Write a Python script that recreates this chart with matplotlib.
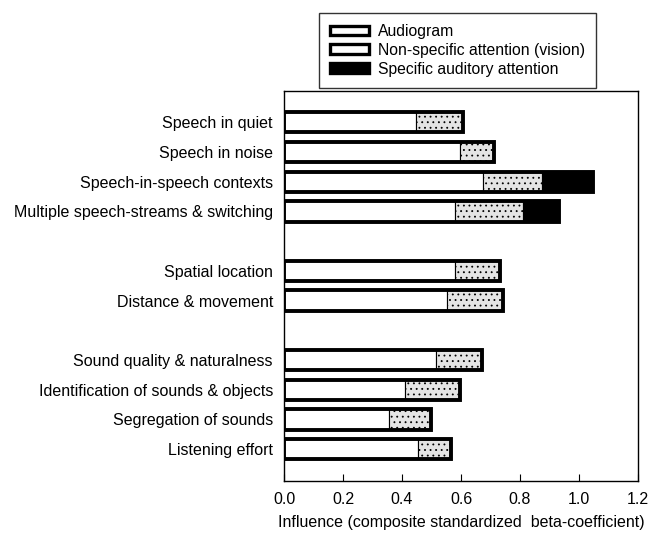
import matplotlib
matplotlib.use("Agg")
import matplotlib.pyplot as plt
from matplotlib.patches import Patch
import numpy as np

plt.rcParams['font.family'] = ['Liberation Sans', 'DejaVu Sans']
plt.rcParams['hatch.color'] = '#b0b0b0'
plt.rcParams['hatch.linewidth'] = 0.6

categories = [
    "Speech in quiet",
    "Speech in noise",
    "Speech-in-speech contexts",
    "Multiple speech-streams & switching",
    "Spatial location",
    "Distance & movement",
    "Sound quality & naturalness",
    "Identification of sounds & objects",
    "Segregation of sounds",
    "Listening effort",
]
positions = [0, 1, 2, 3, 5, 6, 8, 9, 10, 11]

audiogram = [0.447, 0.597, 0.675, 0.580, 0.580, 0.554, 0.514, 0.410, 0.356, 0.455]
nonspecific = [0.159, 0.115, 0.198, 0.231, 0.152, 0.189, 0.158, 0.187, 0.142, 0.111]
specific = [0.0, 0.0, 0.175, 0.120, 0.0, 0.0, 0.0, 0.0, 0.0, 0.0]

xticks = [0.0, 0.2, 0.4, 0.6, 0.8, 1.0, 1.2]
series_names = ["Audiogram", "Non-specific attention (vision)", "Specific auditory attention"]

fig = plt.figure(figsize=(6.56, 5.36), dpi=100)
ax = fig.add_axes([0.433, 0.1026, 0.5396, 0.7276])

h = 0.68
a = np.array(audiogram)
b = np.array(nonspecific)
c = np.array(specific)

ax.barh(positions, a, height=h, color='white', edgecolor='black', linewidth=0.8, zorder=2)
ax.barh(positions, b, left=a, height=h, color='#e4e4e4', edgecolor='black', linewidth=0.8,
        hatch='...', zorder=2)
ax.barh(positions, c, left=a + b, height=h, color='black', edgecolor='black', linewidth=0.8, zorder=2)
ax.barh(positions, a + b + c, height=h, fill=False, edgecolor='black', linewidth=2.8, zorder=3)

ax.set_xlim(0, 1.2)
ax.set_ylim(12.07, -1.05)
ax.set_yticks(positions)
ax.set_yticklabels(categories, fontsize=11.5)
ax.tick_params(axis='y', length=0, pad=8)
ax.set_xticks(xticks)
ax.set_xticklabels([f"{v:.1f}" for v in xticks], fontsize=11.5)
ax.tick_params(axis='x', direction='in', length=5, pad=8)
ax.set_xlabel("Influence (composite standardized  beta-coefficient)", fontsize=11.5, labelpad=6)
for s in ax.spines.values():
    s.set_linewidth(1.0)

handles = [
    Patch(facecolor='white', edgecolor='black', linewidth=2.4),
    Patch(facecolor='white', edgecolor='black', linewidth=2.4),
    Patch(facecolor='black', edgecolor='black', linewidth=2.4),
]
leg = fig.legend(handles, series_names, loc='upper left', bbox_to_anchor=(0.486, 0.976),
                 fontsize=11.3, frameon=True, fancybox=False, edgecolor='black',
                 handlelength=2.5, handleheight=0.55, handletextpad=0.6,
                 labelspacing=0.25, borderpad=0.7, borderaxespad=0)
leg.get_frame().set_linewidth(1.0)

fig.savefig("out.png", dpi=100)
